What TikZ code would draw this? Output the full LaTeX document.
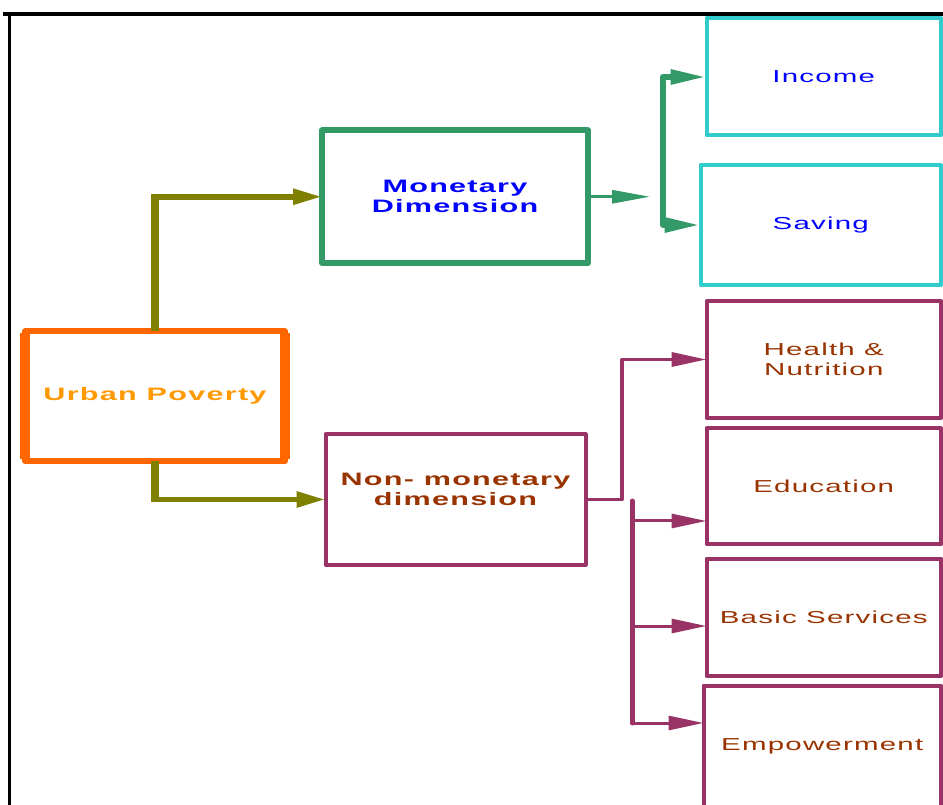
\documentclass[tikz,border=0pt]{standalone}
\usepackage{fontspec}
\setmainfont{Liberation Sans}[FakeStretch=1.7, LetterSpace=7]
\usetikzlibrary{arrows.meta}

\definecolor{upborder}{HTML}{FF6600}
\definecolor{uptext}{HTML}{FF9900}
\definecolor{olivec}{HTML}{808000}
\definecolor{greenc}{HTML}{339966}
\definecolor{purplec}{HTML}{993366}
\definecolor{cyanc}{HTML}{33CCCC}
\definecolor{bluetext}{HTML}{0000FF}
\definecolor{browntext}{HTML}{993300}

\tikzset{
  box/.style={draw, outer sep=0pt, inner sep=0pt, line join=round, fill=white},
  boldlabel/.style={font=\bfseries\fontsize{13.5}{15}\selectfont, align=center},
  plainlabel/.style={font=\fontsize{13}{15}\selectfont, align=center},
  olivearrow/.style={draw=olivec, line width=4.2pt,
    -{Triangle[length=21.75pt, width=11.25pt]}},
  purpletip/.style={-{Triangle[length=26.25pt, width=10.5pt]}},
}

\begin{document}
\begin{tikzpicture}[x=0.75pt, y=-0.75pt]
  \useasboundingbox (0,0) rectangle (943,805);

  % outer frame (top and left rules)
  \draw[line width=3pt] (3,14) -- (943,14);
  \draw[line width=2.25pt] (9,14) -- (9,805);

  % root box
  \node[box, draw=upborder, line width=4.5pt, minimum width=260*0.75pt,
        minimum height=129.5*0.75pt] (up) at (155,396.25) {};
  \draw[upborder, line width=8pt] ([yshift=-1.5pt]up.north west) -- ([yshift=1.5pt]up.south west)
        ([yshift=-1.5pt]up.north east) -- ([yshift=1.5pt]up.south east);
  \node[font=\bfseries\fontsize{13.5}{16}\selectfont, text=uptext] (uptxt)
        at (up.center) {Urban Poverty};

  % second level
  \node[box, draw=greenc, line width=4.5pt, minimum width=266*0.75pt,
        minimum height=132.5*0.75pt, boldlabel, text=bluetext] (mon)
        at (455,196.75) {Monetary\\Dimension};
  \node[box, draw=purplec, line width=3pt, minimum width=260*0.75pt,
        minimum height=130*0.75pt] (nm) at (455.5,499.5) {};
  \node[boldlabel, text=browntext] (nmtxt) at (455.5,489)
        {Non- monetary\\dimension};

  % monetary leaves
  \node[box, draw=cyanc, line width=3pt, minimum width=234.5*0.75pt,
        minimum height=117*0.75pt, plainlabel, text=bluetext] (inc)
        at (823.75,77) {Income};
  \node[box, draw=cyanc, line width=3pt, minimum width=240.5*0.75pt,
        minimum height=120*0.75pt, plainlabel, text=bluetext] (sav)
        at (820.75,225) {Saving};

  % non-monetary leaves
  \node[box, draw=purplec, line width=3pt, minimum width=234.5*0.75pt,
        minimum height=117*0.75pt, plainlabel, text=browntext] (hea)
        at (823.75,359.5) {Health \&\\Nutrition};
  \node[box, draw=purplec, line width=3pt, minimum width=234.5*0.75pt,
        minimum height=116*0.75pt, plainlabel, text=browntext] (edu)
        at (823.75,486.5) {Education};
  \node[box, draw=purplec, line width=3pt, minimum width=234.5*0.75pt,
        minimum height=117.5*0.75pt, plainlabel, text=browntext] (bas)
        at (823.75,617.25) {Basic Services};
  \node[box, draw=purplec, line width=3pt, minimum width=237.5*0.75pt,
        minimum height=122.5*0.75pt, plainlabel, text=browntext] (emp)
        at (822.25,746.75) {Empowerment};

  % root to second level
  \draw[olivec, line width=6pt] (up.north) -- (up.north |- mon.west);
  \draw[olivearrow] ([xshift=-3pt]up.north |- mon.west) -- (mon.west);
  \draw[olivec, line width=6pt] (up.south) -- (up.south |- nm.west);
  \draw[olivearrow] ([xshift=-3pt]up.south |- nm.west) -- (nm.west);

  % monetary branch
  \coordinate (mfork) at (650,196.75);
  \coordinate (mbar) at (663,150);
  \draw[greenc, line width=2.25pt, -{Triangle[length=28.5pt, width=9.75pt]}]
        (mon.east) -- (mfork);
  \draw[greenc, line width=4.5pt, line join=round,
        {Triangle[length=27pt, width=10.5pt]}-{Triangle[length=27pt, width=10.5pt]}]
        (inc.west) -| (mbar) |- (sav.west);

  % non-monetary branch
  \coordinate (nbar1) at (622,430);
  \draw[purplec, line width=2.6pt, line join=round, purpletip]
        (nm.east) -| (nbar1) |- (hea.west);
  \coordinate (nb0) at (632,501);
  \coordinate (nb1) at (632,521);
  \coordinate (nb2) at (632,626);
  \coordinate (nb3) at (632,723);
  \draw[purplec, line width=3.75pt, line cap=round] (nb0) -- (nb3);
  \draw[purplec, line width=2.25pt, purpletip] (nb1) -- (nb1 -| edu.west);
  \draw[purplec, line width=2.25pt, purpletip] (nb2) -- (nb2 -| bas.west);
  \draw[purplec, line width=2.25pt, purpletip] (nb3) -- (nb3 -| emp.west);
\end{tikzpicture}
\end{document}
